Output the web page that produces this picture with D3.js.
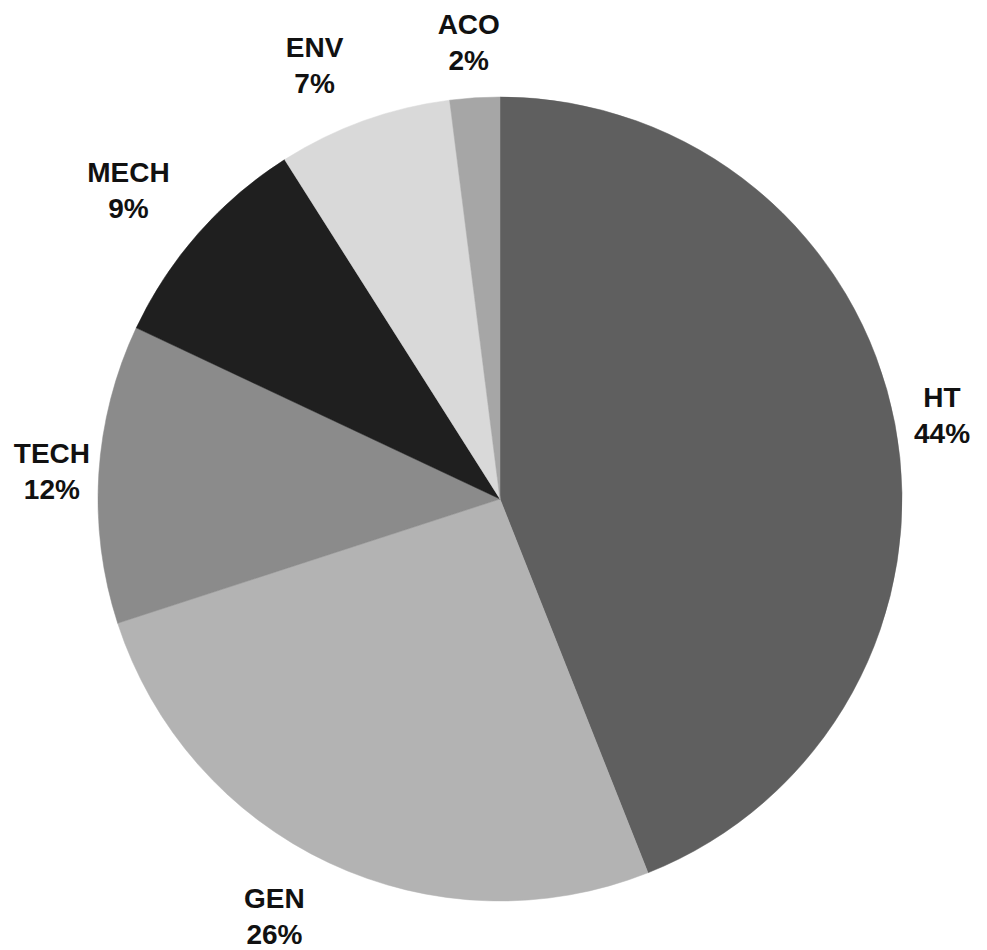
<!DOCTYPE html>
<html>
<head>
<meta charset="utf-8">
<script src="https://cdn.jsdelivr.net/npm/d3@7/dist/d3.min.js"></script>
<style>
  html, body { margin: 0; padding: 0; background: #fff; }
  svg { display: block; }
  .lbl { font-family: "Liberation Sans", Arial, sans-serif; font-weight: bold; font-size: 28px; fill: #111; }
</style>
</head>
<body>
<svg id="chart" width="987" height="950"></svg>
<script>
// Share of items per category (percent)
const categories = ["HT", "GEN", "TECH", "MECH", "ENV", "ACO"];
const shares     = [44, 26, 12, 9, 7, 2];
const shades     = ["#5f5f5f", "#b3b3b3", "#8b8b8b", "#1f1f1f", "#d9d9d9", "#a6a6a6"];

// Label placement: distance beyond the rim plus small per-label nudges
const labelGap = 48;
const labelNudge = {
  HT:   [0, 0],
  GEN:  [-34, 10],
  TECH: [1, 0],
  MECH: [-34, -11],
  ENV:  [-33, -11],
  ACO:  [-3, -8]
};

const width = 987, height = 950;
const cx = 500, cy = 499, R = 402;

const svg = d3.select("#chart");
const g = svg.append("g").attr("transform", `translate(${cx},${cy})`);

const data = categories.map((c, i) => ({ name: c, value: shares[i], color: shades[i] }));

const pie = d3.pie().value(d => d.value).sort(null);
const arcs = pie(data);

const arc = d3.arc().innerRadius(0).outerRadius(R);

g.selectAll("path.slice")
  .data(arcs)
  .join("path")
  .attr("class", "slice")
  .attr("d", arc)
  .attr("fill", d => d.data.color)
  .attr("stroke", d => d.data.color)
  .attr("stroke-width", 0.5);

const labels = g.selectAll("g.lbl")
  .data(arcs)
  .join("g")
  .attr("transform", d => {
    const mid = (d.startAngle + d.endAngle) / 2;
    const r = R + labelGap;
    const n = labelNudge[d.data.name] || [0, 0];
    const x = Math.sin(mid) * r + n[0];
    const y = -Math.cos(mid) * r + n[1];
    return `translate(${x},${y})`;
  });

labels.append("text")
  .attr("class", "lbl")
  .attr("text-anchor", "middle")
  .attr("y", -8)
  .text(d => d.data.name);

labels.append("text")
  .attr("class", "lbl")
  .attr("text-anchor", "middle")
  .attr("y", 28)
  .text(d => d3.format(".0f")(d.data.value) + "%");
</script>
</body>
</html>
